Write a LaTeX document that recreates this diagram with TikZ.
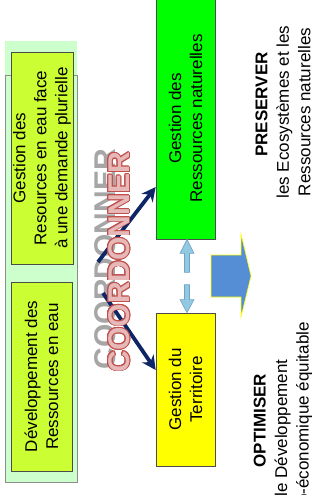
\documentclass[tikz,border=0pt]{standalone}
\usepackage{fontspec}
\setmainfont{Liberation Sans}
\usetikzlibrary{arrows.meta,calc}

\definecolor{panelgreen}{HTML}{CCFFCC}
\definecolor{limebox}{HTML}{CCFF33}
\definecolor{brightgreen}{HTML}{00FF00}
\definecolor{brightyellow}{HTML}{FFFF00}
\definecolor{navyline}{HTML}{0E2566}
\definecolor{paleblue}{HTML}{93C9E0}
\definecolor{paleblueline}{HTML}{6FA3C9}
\definecolor{bigblue}{HTML}{558ED5}
\definecolor{rosefill}{HTML}{E6B9B8}
\definecolor{roseline}{HTML}{C0504D}
\definecolor{shadowgray}{HTML}{A6A6A6}

\begin{document}
\begin{tikzpicture}[x=1pt,y=-1pt,
  box/.style={draw=black!70, line width=0.7pt, rotate=90, align=center,
    inner sep=0pt, font=\fontsize{17}{21}\selectfont},
  navyarrow/.style={draw=navyline, line width=3.8pt,
    -{Stealth[length=14pt,width=14pt]}},
  lightarrow/.style={fill=paleblue, draw=paleblueline, line width=0.6pt},
  bigword/.style={rotate=90, inner sep=0pt,
    font=\fontsize{30}{30}\selectfont\bfseries},
  sidetext/.style={rotate=90, align=center, inner sep=0pt,
    font=\fontsize{17}{21.5}\selectfont}
]
\clip (0,0) rectangle (326,495);

% left panel with its two blocks
\fill[panelgreen] (5,41) rectangle (77,482);
\draw[black!45, line width=0.8pt] (5,75) -- (5,482) -- (77,482) -- (77,75) -- cycle;
\node[box, fill=limebox, minimum width=212pt, minimum height=62pt] (demande) at (42,158)
  {Gestion des\\Resources en eau face\\à une demande plurielle};
\node[box, fill=limebox, minimum width=189pt, minimum height=61pt] (develop) at (41.5,376.5)
  {Développement des\\Ressources en eau};

% management blocks
\node[box, fill=brightgreen, minimum width=241pt, minimum height=59pt] (green) at (185.5,118.5)
  {Gestion des\\Ressources naturelles};
\node[box, fill=brightyellow, minimum width=153pt, minimum height=59pt] (yellow) at (185.5,389.5)
  {Gestion du\\Territoire};

% coordination word, shadow first
\node[bigword, text=shadowgray] (coordShadow) at (105,259) {COORDONNER};

% coordination arrows
\coordinate (hubTop) at (98,262);
\coordinate (hubLow) at (103,293);
\coordinate (greenIn) at (green.north |- 0,187);
\coordinate (yellowIn) at (yellow.north |- 0,370);
\draw[navyarrow] (hubTop) -- (greenIn);
\draw[navyarrow] (hubLow) -- (yellowIn);

% outlined coordination word
\coordinate (coordC) at (119,262);
\foreach \a in {0,22.5,...,337.5}
  \node[bigword, text=roseline] at ($(coordC)+(\a:0.9)$) {COORDONNER};
\node[bigword, text=rosefill] (coord) at (coordC) {COORDONNER};

% exchange arrows between the two blocks
\draw[lightarrow] ($(green.west)+(1.5,0)$) -- ++(7,14) -- ++(-4.5,0) -- ++(0,19)
  -- ++(-5,0) -- ++(0,-19) -- ++(-4.5,0) -- cycle;
\draw[lightarrow] ($(yellow.east)+(1.5,0)$) -- ++(7,-13) -- ++(-4.5,0) -- ++(0,-15)
  -- ++(-5,0) -- ++(0,15) -- ++(-4.5,0) -- cycle;

% outcome arrow
\draw[fill=bigblue, draw=brightyellow, line width=0.6pt]
  (211,255) -- (241,255) -- (241,234) -- (251,276) -- (241,317) -- (241,297)
  -- (211,297) -- cycle;

% outcomes (titles sit slightly off centre along the line)
\node[sidetext] (preserve) at (283,112)
  {\hspace*{15pt}\textbf{PRESERVER}\\les Ecosystèmes et les\\Ressources naturelles};
\node[sidetext] (optimise) at (283,428)
  {\hspace*{15pt}\textbf{OPTIMISER}\\le Développement\\socio-économique équitable};
\end{tikzpicture}
\end{document}
